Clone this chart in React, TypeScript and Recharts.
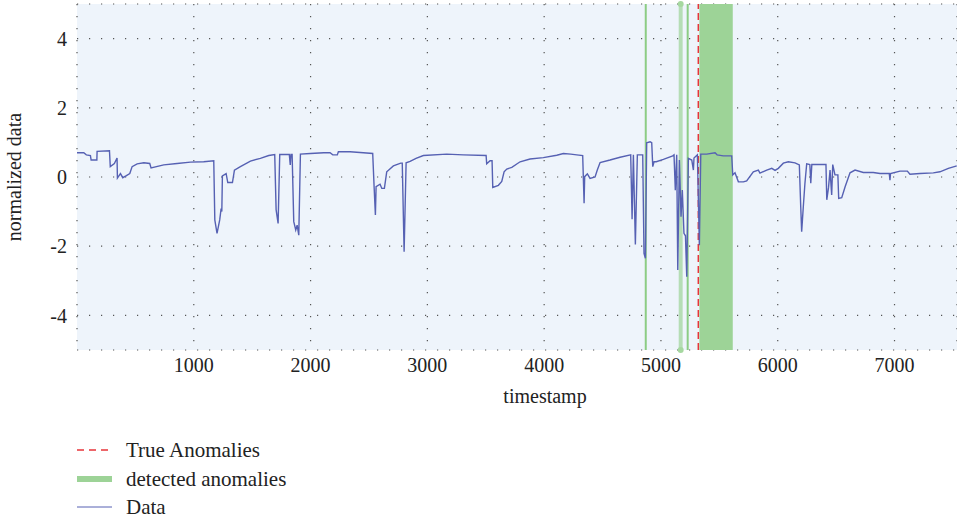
import React from "react";
import {
  ComposedChart,
  Line,
  XAxis,
  YAxis,
  CartesianGrid,
  ReferenceArea,
  ReferenceLine,
  ReferenceDot,
} from "recharts";

// sensor readings
const timestamps = [
  0, 58, 80, 115, 121, 170, 172, 278, 285, 320, 343, 346, 372, 392, 423, 452, 472, 515, 572, 623,
  634, 743, 857, 971, 1085, 1171, 1180, 1199, 1222, 1234, 1240, 1245, 1277, 1291, 1331, 1348, 1399,
  1485, 1570, 1642, 1693, 1705, 1722, 1736, 1818, 1826, 1832, 1842, 1856, 1873, 1885, 1899, 1913,
  1998, 2113, 2167, 2190, 2229, 2238, 2338, 2452, 2532, 2544, 2555, 2561, 2595, 2610, 2632, 2652,
  2709, 2772, 2785, 2801, 2818, 2852, 2903, 2966, 3166, 3308, 3503, 3508, 3537, 3554, 3560, 3608,
  3637, 3657, 3680, 3723, 3794, 3879, 3993, 4108, 4165, 4228, 4279, 4330, 4342, 4347, 4370, 4393,
  4436, 4455, 4479, 4564, 4650, 4741, 4753, 4764, 4781, 4798, 4844, 4855, 4867, 4878, 4907, 4921,
  4930, 4941, 4960, 5021, 5101, 5112, 5123, 5135, 5144, 5158, 5172, 5183, 5197, 5210, 5221, 5235,
  5264, 5278, 5283, 5312, 5329, 5341, 5392, 5463, 5481, 5534, 5606, 5615, 5634, 5663, 5706, 5734,
  5791, 5834, 5848, 5906, 5949, 5977, 6005, 6048, 6091, 6148, 6185, 6197, 6205, 6219, 6233, 6248,
  6275, 6283, 6292, 6413, 6420, 6435, 6448, 6462, 6471, 6490, 6515, 6522, 6548, 6577, 6619, 6662,
  6733, 6818, 6876, 6955, 6961, 6966, 7047, 7110, 7132, 7218, 7332, 7389, 7461, 7533,
];

const values = [
  0.7, 0.7, 0.64, 0.62, 0.49, 0.49, 0.74, 0.76, 0.3, 0.39, 0.55, -0.03, 0.1, -0.02, 0.04, 0.1, 0.3, 0.38, 0.41, 0.39,
  0.26, 0.35, 0.39, 0.43, 0.44, 0.47, -1.24, -1.63, -1.24, -0.91, -1.0, 0.03, 0.1, -0.16, -0.16, 0.2, 0.3,
  0.46, 0.54, 0.62, 0.65, -0.95, -1.34, 0.65, 0.65, 0.35, 0.65, 0.65, -1.29, -1.53, -1.39, -1.68, 0.66,
  0.68, 0.7, 0.7, 0.64, 0.64, 0.73, 0.73, 0.7, 0.68, -0.28, -1.1, -0.28, -0.21, -0.33, -0.33, 0.15,
  0.32, 0.4, 0.4, -2.16, 0.41, 0.45, 0.54, 0.62, 0.66, 0.64, 0.62, 0.38, 0.47, 0.47, -0.3, -0.24,
  -0.13, 0.15, 0.23, 0.28, 0.44, 0.52, 0.56, 0.63, 0.68, 0.66, 0.64, 0.62, -0.76, 0.01, 0.09, -0.04,
  0.0, 0.2, 0.42, 0.49, 0.57, 0.64, -1.22, 0.64, -1.95, 0.64, 0.64, -2.21, -2.35, 0.99, 1.02, 0.99,
  0.3, 0.44, 0.44, 0.51, 0.61, 0.64, -0.38, 0.64, -2.69, 0.49, -1.15, -0.38, -1.63, -1.7, -2.88, 0.54,
  0.49, 0.2, 0.55, 0.64, -1.97, 0.66, 0.66, 0.7, 0.64, 0.61, 0.61, 0.06, 0.12, -0.14, -0.14, -0.11,
  0.15, 0.2, 0.11, 0.2, 0.25, 0.19, 0.25, 0.4, 0.44, 0.41, 0.35, -0.86, -1.58, -0.86, -0.18, 0.38,
  0.36, -0.18, 0.36, 0.36, -0.66, -0.3, 0.2, -0.52, 0.36, 0.06, 0.06, -0.62, -0.6, -0.28, 0.12, 0.2,
  0.13, 0.13, 0.1, 0.1, -0.09, 0.1, 0.17, 0.17, 0.08, 0.1, 0.12, 0.15, 0.25, 0.32,
];

const xTicks = [1000, 2000, 3000, 4000, 5000, 6000, 7000];
const yTicks = [-4, -2, 0, 2, 4];

const trueAnomalies = [5320];
const detectedLines = [4870, 5229];
const detectedSpans = [
  [5152, 5186],
  [5329, 5615],
];

const data = timestamps.map((t, i) => ({ t, v: values[i] }));

const FONT = '"Liberation Serif", "Times New Roman", serif';
const GREEN = "#9dd397";

// custom ticks so the serif font is really used
const XTick = (p: any) => (
  <text x={p.x} y={p.y} dy="0.71em" textAnchor="middle" fill="#222" fontSize={20} fontFamily={FONT}>
    {p.payload.value}
  </text>
);
const YTick = (p: any) => (
  <text x={p.x} y={p.y} dy="0.355em" textAnchor="end" fill="#222" fontSize={20} fontFamily={FONT}>
    {p.payload.value}
  </text>
);

export default function App() {
  return (
    <div style={{ position: "absolute", left: 0, top: 0, width: 957, height: 520, background: "#fff", fontFamily: FONT }}>
      <ComposedChart width={957} height={420} data={data} margin={{ top: 4, right: 0, bottom: 0, left: 0 }}>
        <CartesianGrid
          fill="#eef4fb"
          stroke="#555"
          strokeWidth={1.2}
          strokeDasharray="1.2 10.8"
        />
        <XAxis
          dataKey="t"
          type="number"
          domain={[0, 7535]}
          ticks={xTicks}
          axisLine={false}
          tickLine={false}
          height={70}
          tick={XTick}
          label={{ value: "timestamp", position: "insideBottom", offset: 17, dx: 28, fill: "#222", fontSize: 20, fontFamily: FONT }}
        />
        <YAxis
          type="number"
          domain={[-5, 5]}
          ticks={yTicks}
          width={77}
          axisLine={false}
          tickLine={false}
          tickMargin={4}
          tick={YTick}
          label={{ value: "normalized data", angle: -90, position: "insideLeft", offset: 14, fill: "#222", fontSize: 20, fontFamily: FONT, style: { textAnchor: "middle" } }}
        />
        {detectedSpans.map(([a, b], i) => (
          <ReferenceArea key={"s" + i} x1={a} x2={b} y1={-5} y2={5} fill={GREEN} fillOpacity={i === 0 ? 0.7 : 1} stroke="none" />
        ))}
        {detectedLines.map((x) => (
          <ReferenceLine key={"l" + x} x={x} stroke="#8ccc84" strokeWidth={2} />
        ))}
        <ReferenceDot x={5169} y={5} r={3} fill="#a6d8a0" stroke="none" ifOverflow="visible" />
        <ReferenceDot x={5169} y={-5} r={3} fill="#a6d8a0" stroke="none" ifOverflow="visible" />
        {trueAnomalies.map((x) => (
          <ReferenceLine key={"r" + x} x={x} stroke="#e8343a" strokeWidth={1.5} strokeDasharray="7 4" />
        ))}
        <Line
          type="linear"
          dataKey="v"
          stroke="#5661b3"
          strokeWidth={1.4}
          dot={false}
          isAnimationActive={false}
        />
      </ComposedChart>
      <div style={{ position: "absolute", left: 77, top: 436, fontSize: 21, color: "#222", lineHeight: "28.5px" }}>
        <div style={{ display: "flex", alignItems: "center" }}>
          <svg width={35} height={10} style={{ marginRight: 14 }}>
            <line x1={0} y1={5} x2={35} y2={5} stroke="#e8343a" strokeWidth={1.5} strokeDasharray="7 5" />
          </svg>
          True Anomalies
        </div>
        <div style={{ display: "flex", alignItems: "center" }}>
          <svg width={35} height={10} style={{ marginRight: 14 }}>
            <rect x={0} y={2} width={35} height={6} fill={GREEN} />
          </svg>
          detected anomalies
        </div>
        <div style={{ display: "flex", alignItems: "center" }}>
          <svg width={35} height={10} style={{ marginRight: 14 }}>
            <line x1={0} y1={5} x2={35} y2={5} stroke="#5661b3" strokeWidth={1} />
          </svg>
          Data
        </div>
      </div>
    </div>
  );
}
